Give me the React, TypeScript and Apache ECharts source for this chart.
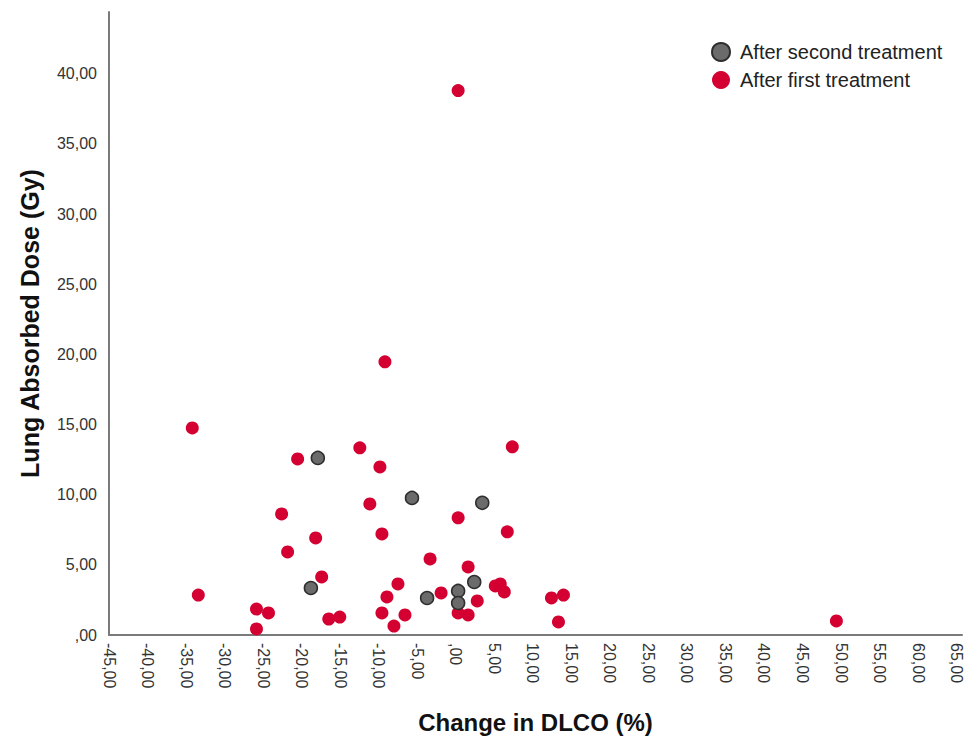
import React, { useEffect, useRef } from "react";
import * as echarts from "echarts";

const secondTreatment: [number, number][] = [
  [-17.9, 12.62], [-5.68, 9.77], [3.44, 9.42], [2.4, 3.78],
  [-3.72, 2.64], [0.31, 3.14], [0.31, 2.28], [-18.8, 3.35],
];

const firstTreatment: [number, number][] = [
  [0.31, 38.8], [-9.19, 19.47], [-34.19, 14.76], [7.34, 13.41], [-12.45, 13.34],
  [-20.52, 12.55], [-9.84, 11.98], [-11.15, 9.34], [-22.6, 8.63], [0.31, 8.35],
  [-9.58, 7.2], [6.69, 7.35], [-18.18, 6.92], [-21.82, 5.92], [-3.33, 5.42],
  [1.61, 4.85], [-17.4, 4.14], [-7.5, 3.64], [-33.41, 2.85], [-8.93, 2.71],
  [-1.9, 3.0], [2.79, 2.43], [5.13, 3.5], [5.78, 3.64], [6.3, 3.07],
  [12.42, 2.64], [13.98, 2.85], [13.33, 0.93], [49.4, 1.0], [-25.86, 1.85],
  [-24.3, 1.57], [-25.86, 0.43], [-16.48, 1.14], [-15.05, 1.28], [-9.58, 1.57],
  [-8.02, 0.64], [-6.59, 1.43], [0.31, 1.57], [1.61, 1.43],
];

const seriesNames = ["After second treatment", "After first treatment"];
const xTitle = "Change in DLCO (%)";
const yTitle = "Lung Absorbed Dose (Gy)";

const fmt = (v: number) => {
  if (Math.abs(Math.round(v / 5) * 5 - v) > 1e-6) return "";
  if (v === 0) return ",00";
  return v.toFixed(2).replace(".", ",");
};

const FONT = "Arial, 'Liberation Sans', sans-serif";

export default function App() {
  const ref = useRef<HTMLDivElement>(null);
  useEffect(() => {
    if (!ref.current) return;
    const chart = echarts.init(ref.current, undefined, { renderer: "svg" });
    chart.setOption({
      animation: false,
      backgroundColor: "#ffffff",
      grid: { left: 109, width: 853, top: 12, height: 623, outerBoundsMode: "none", containLabel: false },
      legend: {
        orient: "vertical",
        left: 706,
        top: 37,
        padding: 5,
        icon: "circle",
        itemWidth: 18,
        itemHeight: 18,
        itemGap: 8,
        data: seriesNames,
        textStyle: { fontFamily: FONT, fontSize: 20, color: "#222", padding: [0, 0, 0, 5] },
      },
      xAxis: {
        type: "value",
        min: -45,
        max: 65.7,
        interval: 5,
        splitLine: { show: false },
        axisTick: { show: false },
        axisLine: { onZero: false, lineStyle: { color: "#7a7a7a", width: 2 } },
        axisLabel: {
          rotate: -90,
          formatter: fmt,
          fontFamily: FONT,
          fontSize: 16,
          color: "#333",
          margin: 8,
          showMaxLabel: false,
        },
        name: xTitle,
        nameLocation: "middle",
        nameGap: 75,
        nameTextStyle: { fontFamily: FONT, fontSize: 24, fontWeight: "bold", color: "#111" },
      },
      yAxis: {
        type: "value",
        min: 0,
        max: 44.4,
        interval: 5,
        splitLine: { show: false },
        axisTick: { show: false },
        axisLine: { show: true, onZero: false, lineStyle: { color: "#7a7a7a", width: 2 } },
        axisLabel: {
          formatter: fmt,
          fontFamily: FONT,
          fontSize: 16,
          color: "#333",
          margin: 12,
          showMaxLabel: false,
        },
        name: yTitle,
        nameLocation: "middle",
        nameGap: 67,
        nameTextStyle: { fontFamily: FONT, fontSize: 25, fontWeight: "bold", color: "#111" },
      },
      series: [
        {
          name: seriesNames[1],
          type: "scatter",
          data: firstTreatment,
          symbolSize: 13,
          itemStyle: { color: "#d50032", opacity: 1 },
          z: 2,
        },
        {
          name: seriesNames[0],
          type: "scatter",
          data: secondTreatment,
          symbolSize: 13,
          itemStyle: { color: "#6b6b6b", borderColor: "#2e2e2e", borderWidth: 1.5, opacity: 1 },
          z: 3,
        },
      ],
    });
    return () => chart.dispose();
  }, []);
  return (
    <div
      ref={ref}
      style={{ position: "fixed", left: 0, top: 0, width: 972, height: 739 }}
    />
  );
}
